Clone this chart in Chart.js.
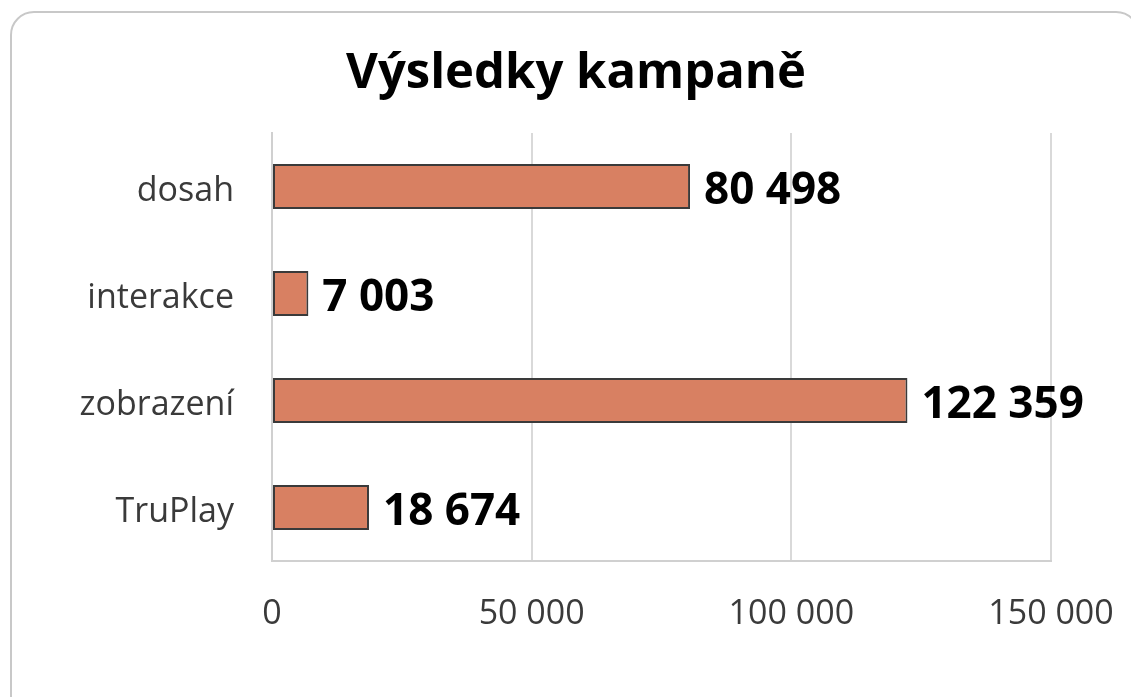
<!DOCTYPE html>
<html><head><meta charset="utf-8">
<script src="https://cdn.jsdelivr.net/npm/chart.js@4/dist/chart.umd.min.js"></script>
<style>
html,body{margin:0;padding:0;background:#fff;overflow:hidden}
#frame{position:absolute;left:10px;top:11px;width:1130px;height:720px;border:2px solid #c8c8c8;border-radius:24px;box-sizing:border-box}
#wrap{position:absolute;left:0;top:0;width:1131px;height:697px}
</style></head>
<body>
<div id="frame"></div>
<div id="wrap"><canvas id="c" width="1131" height="697"></canvas></div>
<script>
const title = 'Výsledky kampaně';
const categories = ['dosah', 'interakce', 'zobrazení', 'TruPlay'];
const values = [80498, 7003, 122359, 18674];
const xTicks = [0, 50000, 100000, 150000];

const fmt = v => String(v).replace(/\B(?=(\d{3})+(?!\d))/g, ' ');
const FONT = '"Open Sans", sans-serif';

const titlePlugin = {
  id: 'customTitle',
  afterDraw(chart) {
    const ctx = chart.ctx;
    ctx.save();
    ctx.font = 'bold 49px ' + FONT;
    ctx.fillStyle = '#000';
    ctx.textAlign = 'center';
    ctx.textBaseline = 'alphabetic';
    ctx.fillText(title, 576, 88);
    ctx.restore();
  }
};

const labelPlugin = {
  id: 'barLabels',
  afterDatasetsDraw(chart) {
    const ctx = chart.ctx;
    const meta = chart.getDatasetMeta(0);
    ctx.save();
    ctx.font = 'bold 44px ' + FONT;
    ctx.fillStyle = '#000';
    ctx.textAlign = 'left';
    ctx.textBaseline = 'middle';
    meta.data.forEach((bar, i) => {
      ctx.fillText(fmt(values[i]), bar.x + 14, bar.y + 5);
    });
    ctx.restore();
  }
};

new Chart(document.getElementById('c'), {
  type: 'bar',
  data: {
    labels: categories,
    datasets: [{
      data: values,
      backgroundColor: '#D88062',
      borderColor: '#3a3a3a',
      borderWidth: 2,
      borderSkipped: false,
      barPercentage: 0.84,
      categoryPercentage: 0.5
    }]
  },
  options: {
    indexAxis: 'y',
    responsive: false,
    animation: false,
    layout: { padding: { left: 0, right: 80, top: 133, bottom: 0 } },
    plugins: {
      legend: { display: false },
      tooltip: { enabled: false },
      title: { display: false }
    },
    scales: {
      x: {
        min: 0, max: 150000,
        afterBuildTicks: s => { s.ticks = xTicks.map(v => ({ value: v })); },
        afterFit: s => { s.height = 136; s.paddingLeft = 0; s.paddingRight = 0; },
        grid: { color: '#d9d9d9', lineWidth: 2, drawTicks: false },
        border: { color: '#d0d0d0', width: 2 },
        ticks: {
          color: '#3a3a3a',
          font: { family: FONT, size: 34 },
          padding: 33,
          maxRotation: 0,
          callback: v => fmt(v)
        }
      },
      y: {
        afterFit: s => { s.width = 272; s.paddingTop = 0; s.paddingBottom = 0; },
        grid: { display: false, drawTicks: false },
        border: { color: '#d0d0d0', width: 2 },
        ticks: {
          color: '#3a3a3a',
          font: { family: FONT, size: 34 },
          padding: 38,
          labelOffset: 5
        }
      }
    }
  },
  plugins: [labelPlugin, titlePlugin]
});
</script>
</body></html>
